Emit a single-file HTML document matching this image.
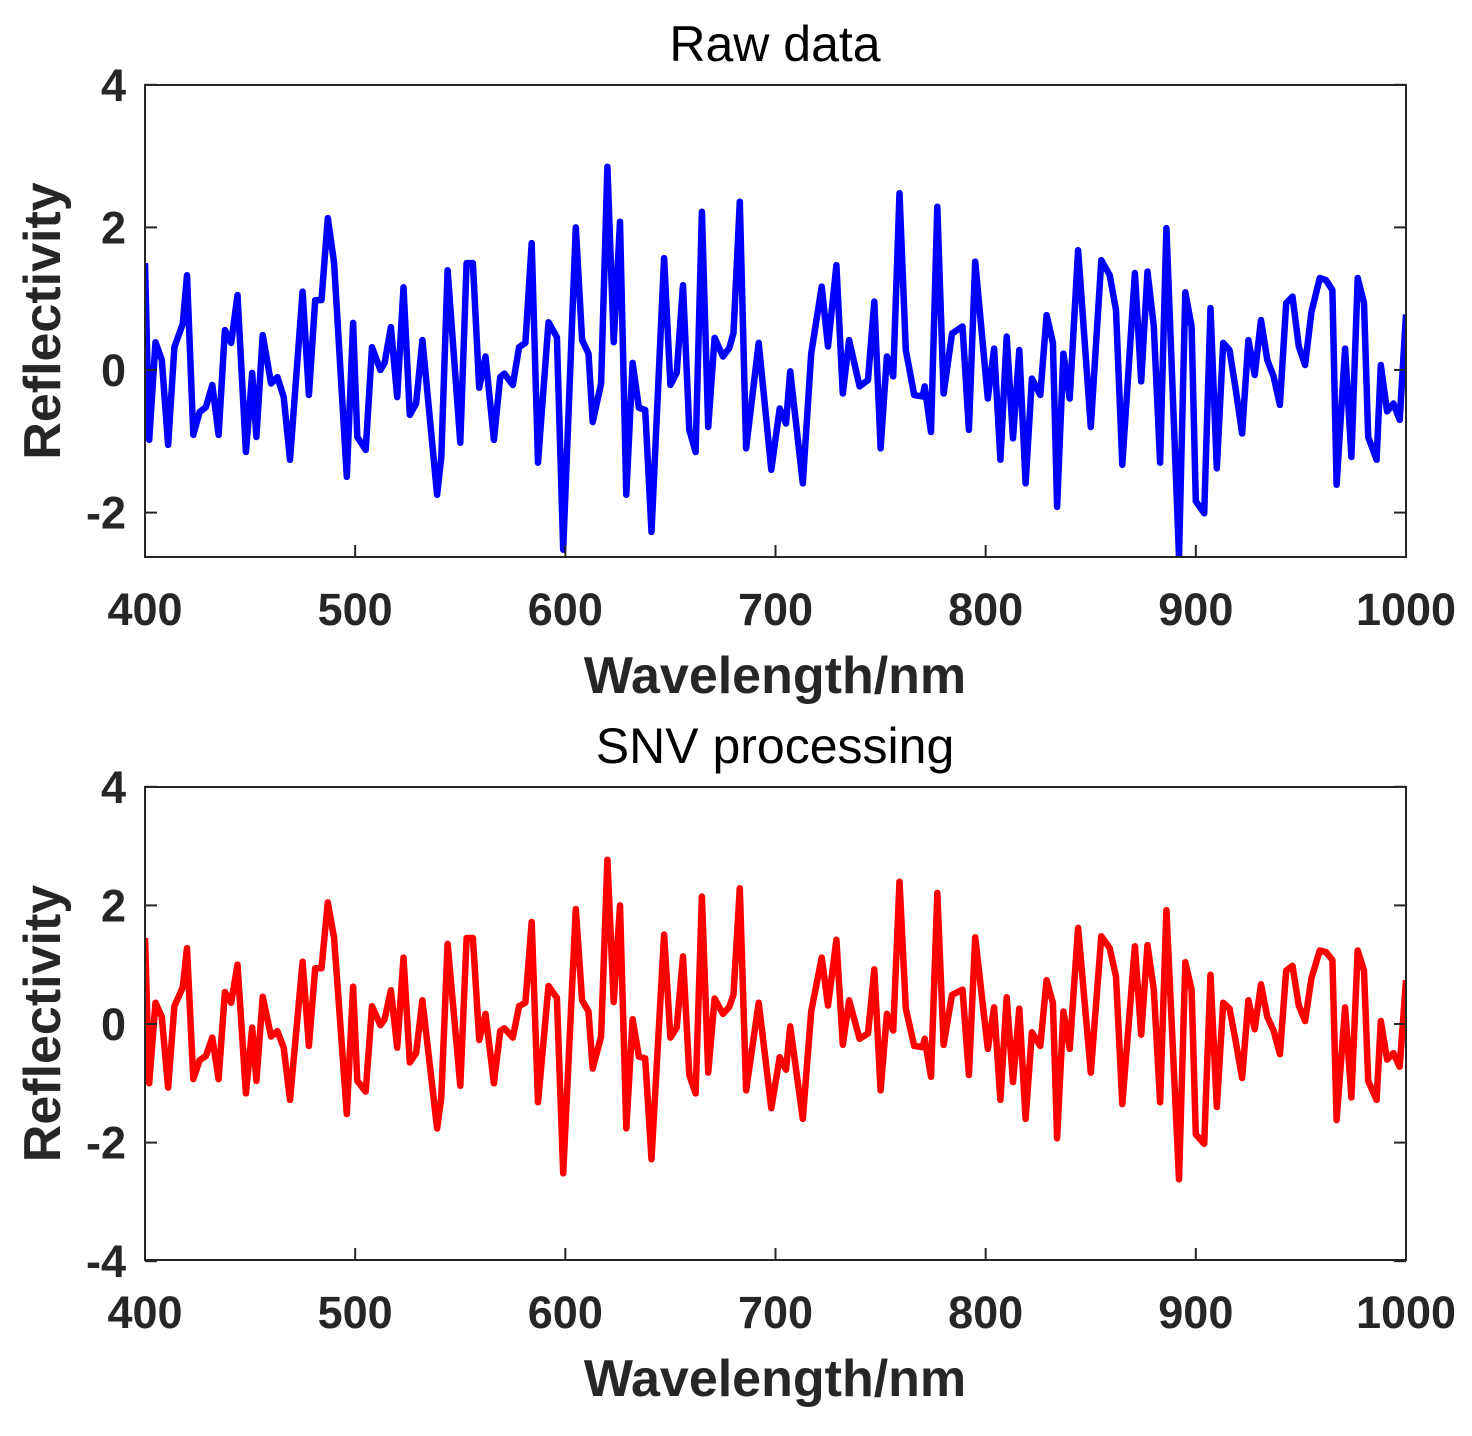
<!DOCTYPE html>
<html><head><meta charset="utf-8"><style>
html,body{margin:0;padding:0;background:#fff;}
svg{display:block;}
text{font-family:"Liberation Sans",Arial,sans-serif;fill:#262626;}
.tk{font-weight:bold;font-size:45px;}
.lb{font-weight:bold;font-size:52px;}
.tt{font-size:50px;fill:#000;}
</style></head><body>
<svg id="chart" width="1472" height="1436" viewBox="0 0 1472 1436"></svg>
<script>
const wavelengths = [400,402,405,408,411,414,418,420,423,426,429,432,435,438,441,444,448,451,453,456,460,463,466,469,475,478,481,484,487,490,496,499,501,505,508,512,514,517,520,523,526,529,532,539,541,544,550,553,556,559,562,566,569,571,575,578,581,584,587,592,596,599,605,608,611,613,617,620,623,626,629,632,635,638,641,647,650,653,656,659,662,665,668,671,675,678,680,683,686,692,698,702,705,707,713,717,722,725,729,732,735,740,744,747,750,753,756,759,762,766,770,771,774,777,780,784,789,792,795,801,804,807,810,813,816,819,822,826,829,832,834,837,840,844,850,855,859,862,865,871,874,877,880,883,886,892,895,898,900,904,907,910,913,916,919,922,925,928,931,934,937,940,943,946,949,952,955,959,962,965,967,971,974,977,980,982,986,988,991,994,997,1000];
const rawValues = [1.5,-0.98,0.39,0.14,-1.05,0.32,0.65,1.33,-0.91,-0.59,-0.52,-0.21,-0.91,0.56,0.38,1.05,-1.15,-0.04,-0.94,0.49,-0.19,-0.1,-0.38,-1.26,1.1,-0.35,0.98,0.98,2.13,1.5,-1.5,0.66,-0.94,-1.12,0.32,0,0.1,0.6,-0.38,1.16,-0.63,-0.47,0.42,-1.75,-1.22,1.4,-1.02,1.5,1.5,-0.25,0.19,-0.98,-0.1,-0.05,-0.21,0.32,0.38,1.78,-1.3,0.67,0.46,-2.52,2.0,0.42,0.23,-0.73,-0.19,2.85,0.39,2.08,-1.75,0.1,-0.53,-0.56,-2.27,1.57,-0.21,-0.04,1.19,-0.84,-1.15,2.22,-0.8,0.45,0.19,0.31,0.52,2.36,-1.1,0.38,-1.4,-0.54,-0.75,-0.02,-1.59,0.23,1.17,0.33,1.47,-0.33,0.42,-0.23,-0.14,0.96,-1.1,0.19,-0.09,2.48,0.28,-0.35,-0.37,-0.23,-0.87,2.29,-0.33,0.51,0.61,-0.84,1.52,-0.4,0.3,-1.26,0.47,-0.96,0.28,-1.59,-0.12,-0.35,0.77,0.38,-1.92,0.23,-0.4,1.68,-0.8,1.54,1.33,0.84,-1.33,1.36,-0.16,1.38,0.61,-1.3,1.99,-2.62,1.09,0.61,-1.84,-2.01,0.87,-1.38,0.38,0.28,-0.28,-0.89,0.42,-0.07,0.7,0.14,-0.09,-0.49,0.94,1.03,0.33,0.07,0.81,1.29,1.26,1.12,-1.61,0.3,-1.22,1.29,0.94,-0.94,-1.26,0.07,-0.58,-0.47,-0.7,0.78];
const snvValues = [1.45,-1.0,0.36,0.12,-1.07,0.3,0.62,1.28,-0.93,-0.61,-0.54,-0.23,-0.93,0.54,0.36,1.0,-1.17,-0.06,-0.96,0.46,-0.21,-0.12,-0.4,-1.28,1.05,-0.37,0.94,0.94,2.05,1.45,-1.52,0.63,-0.96,-1.14,0.3,-0.02,0.08,0.57,-0.4,1.12,-0.65,-0.49,0.4,-1.76,-1.24,1.35,-1.04,1.45,1.45,-0.27,0.17,-1.0,-0.12,-0.07,-0.23,0.3,0.36,1.72,-1.32,0.64,0.44,-2.52,1.94,0.4,0.21,-0.75,-0.21,2.77,0.37,2.0,-1.76,0.08,-0.55,-0.58,-2.28,1.51,-0.23,-0.06,1.14,-0.86,-1.17,2.15,-0.82,0.43,0.17,0.29,0.5,2.29,-1.12,0.36,-1.42,-0.56,-0.77,-0.04,-1.6,0.21,1.12,0.31,1.42,-0.35,0.4,-0.25,-0.16,0.92,-1.12,0.17,-0.11,2.4,0.26,-0.37,-0.39,-0.25,-0.89,2.21,-0.35,0.49,0.58,-0.86,1.46,-0.42,0.28,-1.28,0.45,-0.98,0.26,-1.6,-0.14,-0.37,0.74,0.36,-1.93,0.21,-0.42,1.62,-0.82,1.48,1.28,0.8,-1.35,1.31,-0.18,1.33,0.58,-1.32,1.92,-2.62,1.04,0.58,-1.86,-2.02,0.83,-1.4,0.36,0.26,-0.3,-0.91,0.4,-0.09,0.67,0.12,-0.11,-0.51,0.9,0.98,0.31,0.05,0.77,1.24,1.21,1.08,-1.62,0.28,-1.24,1.24,0.9,-0.96,-1.28,0.05,-0.6,-0.49,-0.72,0.74];
const xTicks = [400,500,600,700,800,900,1000];
const yTicksTop = [-2,0,2,4];
const yTicksBottom = [-4,-2,0,2,4];

const NS = "http://www.w3.org/2000/svg";
const svg = document.getElementById('chart');
function el(tag, attrs, parent, txt){
  const e = document.createElementNS(NS, tag);
  for (const k in attrs) e.setAttribute(k, attrs[k]);
  if (txt !== undefined) e.textContent = txt;
  (parent || svg).appendChild(e);
  return e;
}

function drawPanel(cfg){
  const g = el('g', {});
  
  
  const L = 145, R = 1406, T = cfg.top, B = cfg.bottom;
  const xs = v => L + (v - 400) / 600 * (R - L);
  const ys = v => cfg.y0 - v * cfg.ppu;
  const cid = 'clip-' + cfg.name;
  const defs = el('defs', {}, g);
  const cp = el('clipPath', {id: cid}, defs);
  el('rect', {x: L, y: T, width: R - L, height: B - T}, cp);
  let d = '';
  cfg.xData.forEach((w, i) => { d += (i ? 'L' : 'M') + xs(w).toFixed(1) + ',' + ys(cfg.yData[i]).toFixed(1); });
  const line = el('path', {d: d, fill: 'none', stroke: cfg.color, 'stroke-width': 6.5, 'stroke-linejoin': 'round', 'clip-path': 'url(#' + cid + ')'}, g);
  
  
  const box = el('rect', {x: L, y: T, width: R - L, height: B - T, fill: 'none', stroke: '#262626', 'stroke-width': 2}, g);
  
  
  xTicks.forEach(t => {
    const x = xs(t);
    el('line', {x1: x, y1: B, x2: x, y2: B - 12, stroke: '#262626', 'stroke-width': 2}, g);
    const lab = el('text', {x: x, y: B + 68, 'text-anchor': 'middle', class: 'tk'}, g, String(t));
    
    
  });
  cfg.yTicks.forEach(t => {
    const y = ys(t);
    el('line', {x1: L, y1: y, x2: L + 12, y2: y, stroke: '#262626', 'stroke-width': 2}, g);
    el('line', {x1: R, y1: y, x2: R - 12, y2: y, stroke: '#262626', 'stroke-width': 2}, g);
    const lab = el('text', {x: 126, y: y + 16, 'text-anchor': 'end', class: 'tk'}, g, String(t));
    
    
  });
  const xl = el('text', {x: 775, y: B + 136, 'text-anchor': 'middle', class: 'lb'}, g, 'Wavelength/nm');
  
  
  const yc = (T + B) / 2;
  const yl = el('text', {x: 60, y: yc, 'text-anchor': 'middle', class: 'lb', transform: 'rotate(-90 60 ' + yc + ')'}, g, 'Reflectivity');
  
  
  const tt = el('text', {x: 775, y: T - 24, 'text-anchor': 'middle', class: 'tt'}, g, cfg.title);
  
  
}

drawPanel({name: 'raw-panel', title: 'Raw data', top: 85, bottom: 557, y0: 370, ppu: 71.3, color: '#0000ff', xData: wavelengths, yData: rawValues, yTicks: yTicksTop});
drawPanel({name: 'snv-panel', title: 'SNV processing', top: 787, bottom: 1260, y0: 1024, ppu: 59.3, color: '#ff0000', xData: wavelengths, yData: snvValues, yTicks: yTicksBottom});
</script>
</body></html>
